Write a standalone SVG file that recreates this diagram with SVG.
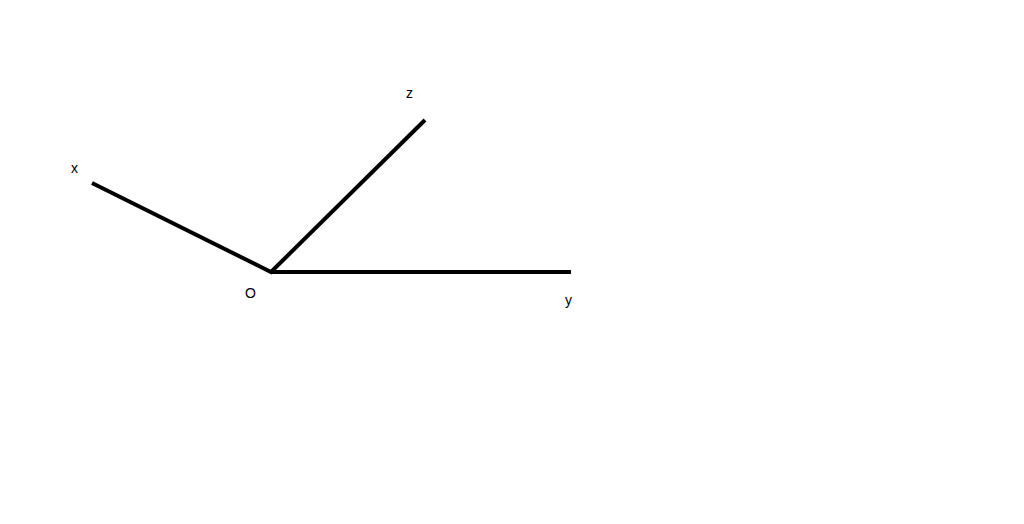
<svg xmlns="http://www.w3.org/2000/svg" width="1024" height="524" viewBox="0 0 1024 524">
<style>
.ax{stroke:#000;stroke-width:4;fill:none;stroke-linecap:butt;stroke-linejoin:miter}
.lb{font-family:"Liberation Sans",Arial,sans-serif;font-size:14px;fill:#000}
</style>
<rect width="1024" height="524" fill="#fff"/>
<g id="connectors">
<polyline class="ax" points="92,183 271,272 425,120"/>
<line class="ax" x1="271" y1="272" x2="571" y2="272"/>
</g>
<g id="label-x"><text class="lb" x="71" y="173">x</text></g>
<g id="label-z"><text class="lb" x="406" y="98">z</text></g>
<g id="label-O"><text class="lb" x="245" y="298">O</text></g>
<g id="label-y"><text class="lb" x="565" y="305">y</text></g>
</svg>
